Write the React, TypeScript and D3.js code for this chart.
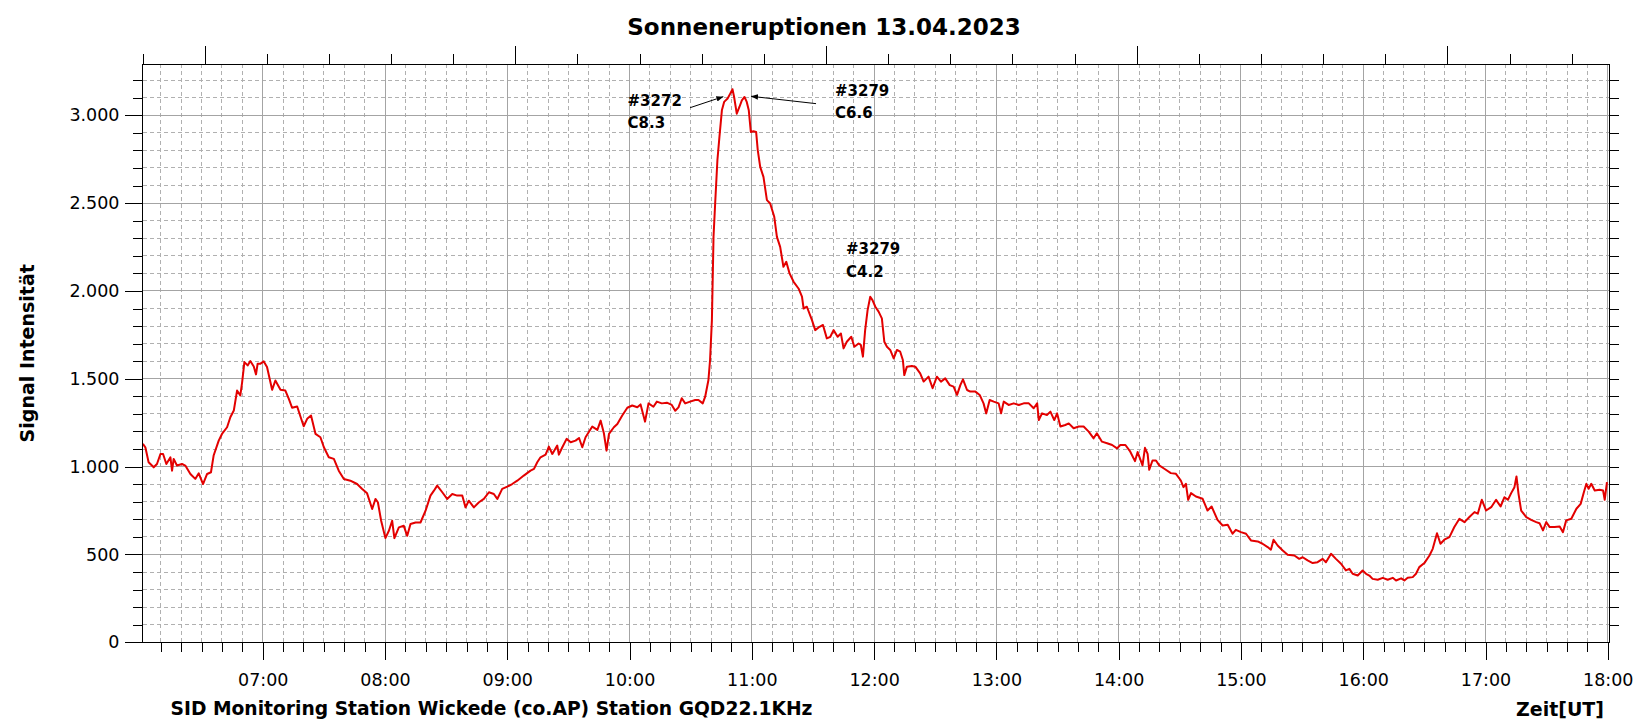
import React, { useEffect, useRef } from 'react';
import * as d3 from 'd3';

const chartTitle = 'Sonneneruptionen 13.04.2023';
const stationLabel = 'SID Monitoring Station Wickede (co.AP) Station GQD22.1KHz';
const timeLabel = 'Zeit[UT]';
const signalLabel = 'Signal Intensität';

const hourLabels = ['07:00', '08:00', '09:00', '10:00', '11:00', '12:00', '13:00', '14:00', '15:00', '16:00', '17:00', '18:00'];
const valueTicks = [0, 500, 1000, 1500, 2000, 2500, 3000];
const topMajorTicks = [0, 5, 10, 15, 20];

// [minutes after 06:00 UT, signal]
const morningSignal: [number, number][] = [
  [1.2, 1129], [2.4, 1110], [4.0, 1025], [6.5, 996], [8.1, 1015], [9.8, 1072], [11.1, 1072], [12.7, 1015],
  [14.7, 1053], [15.5, 977], [16.3, 1044], [17.9, 1006], [20.4, 1015], [22.0, 1006], [24.5, 958], [26.9, 930],
  [28.6, 962], [30.7, 901], [32.7, 958], [34.6, 968], [35.9, 1063], [38.4, 1148], [40.0, 1186], [42.5, 1224],
  [44.1, 1281], [45.8, 1319], [47.4, 1433], [49.0, 1405], [49.9, 1481], [51.0, 1595], [52.6, 1576], [53.9, 1601],
  [55.6, 1570], [56.7, 1525], [57.5, 1586], [58.9, 1586], [60.5, 1599], [62.1, 1567], [64.6, 1437], [66.2, 1490],
  [68.7, 1437], [71.1, 1433], [72.8, 1386], [74.4, 1335], [76.9, 1342], [78.5, 1285], [80.1, 1230], [81.8, 1272],
  [83.7, 1291], [85.9, 1186], [88.3, 1167], [90.0, 1110], [92.4, 1053], [94.9, 1044], [97.3, 977], [99.8, 930],
  [103.0, 920], [106.3, 901], [108.8, 873], [111.2, 848], [113.7, 759], [115.3, 816], [116.5, 797], [118.1, 692],
  [120.2, 593], [121.9, 635], [123.5, 692], [124.6, 593], [126.8, 654], [129.2, 663], [130.9, 606], [132.5, 673],
  [135.0, 682], [137.4, 682], [139.9, 749], [142.3, 835], [144.0, 863], [145.6, 892], [148.1, 854], [150.5, 816],
  [153.0, 844], [155.4, 835], [157.9, 835], [159.5, 768], [161.1, 806], [163.6, 768], [166.1, 797], [168.5, 816],
  [171.0, 854], [173.4, 844], [175.1, 816], [177.5, 873], [180.0, 886], [182.4, 901], [184.9, 920], [188.1, 949],
  [191.4, 977], [193.1, 987], [194.7, 1025], [196.3, 1053], [198.8, 1068], [200.4, 1114], [202.1, 1072], [204.5, 1120],
  [205.3, 1068], [207.0, 1110], [209.1, 1158], [211.1, 1139], [213.5, 1148], [215.2, 1163], [216.8, 1110], [218.4, 1167],
  [221.7, 1228], [224.2, 1209], [225.8, 1262], [227.4, 1190], [228.7, 1091], [229.9, 1186], [232.3, 1224], [234.0, 1243],
  [236.4, 1291], [238.9, 1335], [241.3, 1348], [243.8, 1338], [245.4, 1354],
];

const flareSignal: [number, number][] = [
  [247.6, 1256], [249.3, 1360], [251.7, 1341], [253.4, 1370], [255.8, 1360], [258.3, 1364], [260.7, 1351], [262.4, 1318],
  [264.0, 1337], [265.6, 1389], [267.3, 1360], [269.7, 1370], [272.2, 1379], [273.8, 1379], [275.9, 1360], [277.1, 1398],
  [278.7, 1493], [279.5, 1607], [280.4, 1834], [281.2, 2308], [282.0, 2498], [283.1, 2744], [284.1, 2877], [285.3, 3028],
  [286.4, 3076], [288.1, 3095], [289.4, 3123], [290.5, 3148], [291.3, 3104], [292.6, 3009], [293.9, 3047], [295.1, 3085],
  [296.4, 3104], [297.5, 3076], [298.5, 3028], [299.5, 2905], [300.8, 2909], [302.1, 2905], [302.9, 2801], [304.1, 2706],
  [305.7, 2649], [307.4, 2517], [309.0, 2498], [311.0, 2422], [312.3, 2308], [313.9, 2251], [315.5, 2137], [316.9, 2166],
  [318.5, 2100], [320.5, 2052], [322.9, 2014], [324.6, 1967], [325.4, 1900], [327.0, 1910], [329.5, 1834], [331.1, 1777],
  [333.2, 1796], [334.9, 1806], [336.8, 1730], [338.5, 1739], [340.1, 1777], [342.1, 1739], [343.7, 1758], [345.0, 1673],
  [346.6, 1711], [348.8, 1739], [350.3, 1682], [352.4, 1701], [353.5, 1692], [354.5, 1626], [355.6, 1777], [356.8, 1891],
  [358.1, 1967], [359.2, 1948], [360.6, 1910], [362.2, 1882], [363.8, 1844], [365.0, 1711], [366.3, 1682], [367.9, 1664],
  [369.6, 1616], [371.2, 1664], [372.8, 1654], [374.1, 1607], [374.8, 1521], [376.1, 1569], [378.5, 1573], [380.2, 1569],
  [382.6, 1531], [384.3, 1484], [386.7, 1512], [388.7, 1446], [390.8, 1512], [392.8, 1484], [394.9, 1502], [397.1, 1464],
  [399.0, 1455], [400.7, 1408], [402.3, 1464], [403.6, 1497], [405.6, 1436], [407.2, 1427], [409.7, 1427], [411.8, 1408],
  [413.7, 1360], [415.0, 1303], [416.7, 1379], [418.7, 1370], [421.1, 1360], [422.3, 1303], [423.6, 1370], [426.0, 1351],
  [428.5, 1360], [431.0, 1351], [433.4, 1360], [435.9, 1360], [438.3, 1332], [440.0, 1360], [440.8, 1265], [442.4, 1303],
  [444.8, 1294], [446.5, 1313], [448.4, 1265], [449.8, 1303], [451.4, 1228], [453.8, 1237], [455.5, 1246], [457.9, 1218],
  [460.4, 1228], [462.8, 1228], [465.3, 1199], [467.7, 1161], [469.3, 1190], [471.8, 1142], [474.3, 1133], [476.8, 1123],
  [479.2, 1104], [480.8, 1123], [483.3, 1123], [485.7, 1085],
];

const afternoonSignal: [number, number][] = [
  [488.0, 1031], [489.3, 1083], [491.7, 1007], [492.9, 1107], [494.2, 1073], [495.0, 982], [496.6, 1035], [498.3, 1035],
  [499.9, 1007], [502.4, 988], [505.6, 963], [508.1, 959], [510.5, 921], [511.8, 883], [513.0, 902], [514.1, 811],
  [515.5, 849], [517.9, 830], [521.2, 817], [523.6, 750], [525.6, 773], [528.5, 697], [531.0, 665], [533.5, 669],
  [535.9, 618], [537.5, 640], [540.0, 627], [542.5, 618], [544.9, 580], [548.2, 574], [550.6, 561], [553.1, 542],
  [554.7, 527], [556.0, 584], [558.0, 551], [560.5, 523], [562.9, 498], [566.2, 494], [568.6, 475], [570.3, 484],
  [572.7, 466], [575.2, 451], [577.6, 456], [580.1, 475], [581.7, 456], [584.2, 504], [586.6, 475], [589.1, 447],
  [591.5, 409], [593.2, 418], [594.8, 390], [597.3, 380], [599.7, 409], [601.4, 390], [603.0, 380], [604.6, 361],
  [607.1, 356], [609.6, 367], [612.0, 356], [614.5, 367], [616.1, 352], [618.6, 364], [620.2, 352], [621.8, 367],
  [624.3, 371], [625.9, 390], [627.5, 428], [630.0, 451], [632.5, 494], [634.1, 532], [636.2, 621], [637.9, 561],
  [639.8, 584], [642.3, 599], [644.7, 656], [647.2, 703], [649.7, 684], [652.1, 713], [654.6, 741], [656.2, 732],
  [658.2, 811], [660.3, 750], [662.8, 769], [665.2, 811], [667.4, 773], [669.3, 826], [671.0, 811], [672.6, 849],
  [674.2, 883], [675.2, 944], [676.2, 845], [677.5, 750], [680.0, 713], [682.4, 697], [684.9, 684], [686.5, 678],
  [688.2, 637], [689.8, 684], [691.5, 656], [693.9, 656], [696.4, 659], [698.0, 627], [699.6, 694], [702.1, 703],
  [704.6, 760], [706.7, 788], [708.3, 855], [709.5, 902], [710.6, 874], [711.9, 902], [713.6, 864], [716.0, 868],
  [717.7, 864], [718.5, 811], [719.6, 912],
];

const annotations = [
  { lines: ['#3272', 'C8.3'], at: [239.0, 3054], arrowFrom: [269.7, 3043], arrowTo: [286.0, 3106] },
  { lines: ['#3279', 'C6.6'], at: [340.8, 3110], arrowFrom: [331.5, 3066], arrowTo: [299.6, 3108] },
  { lines: ['#3279', 'C4.2'], at: [346.2, 2210] },
];

const W = 1652;
const H = 728;
const plot = { left: 142.5, right: 1609, top: 64.3, bottom: 642.3 };
const FONT = '"DejaVu Sans", Verdana, sans-serif';

export default function App() {
  const svgRef = useRef<SVGSVGElement>(null);

  useEffect(() => {
    if (!svgRef.current) return;
    const svg = d3.select(svgRef.current);
    svg.selectAll('*').remove();

    const base = new Date(2023, 3, 13, 6, 0, 0).getTime();
    const toDate = (m: number) => new Date(base + m * 60000);
    const parseHour = (s: string) => {
      const [h, m] = s.split(':').map(Number);
      return toDate((h - 6) * 60 + m);
    };

    const x = d3.scaleTime()
      .domain([toDate(1), toDate(720.6)])
      .range([plot.left, plot.right]);
    const y = d3.scaleLinear()
      .domain([0, 3290])
      .range([plot.bottom, plot.top]);
    const xTop = d3.scaleLinear()
      .domain([-1, 22.6])
      .range([plot.left, plot.right]);

    const fmt = d3.formatLocale({ decimal: ',', thousands: '.', grouping: [3], currency: ['', ' €'] }).format(',d');

    svg.append('rect').attr('width', W).attr('height', H).attr('fill', '#fff');

    const defs = svg.append('defs');
    defs.append('marker')
      .attr('id', 'arrow')
      .attr('viewBox', '0 0 10 10')
      .attr('refX', 10)
      .attr('refY', 5)
      .attr('markerWidth', 7)
      .attr('markerHeight', 7)
      .attr('orient', 'auto')
      .append('path')
      .attr('d', 'M0,1 L10,5 L0,9 z')
      .attr('fill', '#000');

    // Grid
    const grid = svg.append('g').attr('shape-rendering', 'crispEdges');
    const hourDates = hourLabels.map(parseHour);
    const minorTimes = d3.timeMinute.every(10)!.range(toDate(1), toDate(720.6))
      .filter(d => d.getMinutes() !== 0);
    grid.selectAll('.vminor')
      .data(minorTimes)
      .enter().append('line')
      .attr('x1', d => x(d)).attr('x2', d => x(d))
      .attr('y1', plot.top).attr('y2', plot.bottom)
      .attr('stroke', '#b0b0b0')
      .attr('stroke-dasharray', '4,3');
    const minorValues = d3.range(100, 3290, 100).filter(v => v % 500 !== 0);
    grid.selectAll('.hminor')
      .data(minorValues)
      .enter().append('line')
      .attr('x1', plot.left).attr('x2', plot.right)
      .attr('y1', d => y(d)).attr('y2', d => y(d))
      .attr('stroke', '#b0b0b0')
      .attr('stroke-dasharray', '4,3');
    grid.selectAll('.vmajor')
      .data(hourDates.filter(d => x(d) < plot.right - 1))
      .enter().append('line')
      .attr('x1', d => x(d)).attr('x2', d => x(d))
      .attr('y1', plot.top).attr('y2', plot.bottom)
      .attr('stroke', '#a4a4a4');
    grid.selectAll('.hmajor')
      .data(valueTicks.filter(v => v > 0))
      .enter().append('line')
      .attr('x1', plot.left).attr('x2', plot.right)
      .attr('y1', d => y(d)).attr('y2', d => y(d))
      .attr('stroke', '#a4a4a4');

    // Data line
    const series = [...morningSignal, ...flareSignal, ...afternoonSignal];
    const line = d3.line<[number, number]>()
      .x(d => x(toDate(d[0])))
      .y(d => y(d[1]));
    svg.append('path')
      .datum(series)
      .attr('d', line)
      .attr('fill', 'none')
      .attr('stroke', '#e30000')
      .attr('stroke-width', 2)
      .attr('stroke-linejoin', 'round');

    // Axes
    const styleAxis = (g: d3.Selection<SVGGElement, unknown, null, undefined>) => {
      g.select('.domain').remove();
      g.selectAll('.tick line').attr('stroke', '#000');
      g.selectAll('text')
        .attr('fill', '#000')
        .style('font-family', FONT)
        .style('font-size', '17.5px');
    };

    const axes = svg.append('g').attr('shape-rendering', 'crispEdges');

    axes.append('g')
      .attr('transform', `translate(${plot.left},0)`)
      .call(d3.axisLeft(y).tickValues(minorValues).tickSize(10).tickFormat(() => ''))
      .call(styleAxis);
    axes.append('g')
      .attr('transform', `translate(${plot.left},0)`)
      .call(d3.axisLeft(y).tickValues(valueTicks).tickSize(18).tickPadding(5).tickFormat(d => fmt(d as number)))
      .call(styleAxis);

    axes.append('g')
      .attr('transform', `translate(${plot.right},0)`)
      .call(d3.axisRight(y).tickValues(d3.range(100, 3290, 100)).tickSize(10).tickFormat(() => ''))
      .call(styleAxis);

    axes.append('g')
      .attr('transform', `translate(0,${plot.bottom})`)
      .call(d3.axisBottom(x).tickValues(minorTimes).tickSize(10).tickFormat(() => ''))
      .call(styleAxis);
    axes.append('g')
      .attr('transform', `translate(0,${plot.bottom})`)
      .call(d3.axisBottom(x).tickValues(hourDates).tickSize(18).tickPadding(13.5).tickFormat(d3.timeFormat('%H:%M') as any))
      .call(styleAxis);

    axes.append('g')
      .attr('transform', `translate(0,${plot.top})`)
      .call(d3.axisTop(xTop).tickValues(d3.range(-1, 23)).tickSize(10).tickFormat(() => ''))
      .call(styleAxis);
    axes.append('g')
      .attr('transform', `translate(0,${plot.top})`)
      .call(d3.axisTop(xTop).tickValues(topMajorTicks).tickSize(18).tickFormat(() => ''))
      .call(styleAxis);

    axes.append('rect')
      .attr('x', plot.left)
      .attr('y', plot.top)
      .attr('width', plot.right - plot.left)
      .attr('height', plot.bottom - plot.top)
      .attr('fill', 'none')
      .attr('stroke', '#000');

    // Annotations
    const ann = svg.append('g')
      .style('font-family', FONT)
      .style('font-size', '15px')
      .style('font-weight', 'bold');
    annotations.forEach(a => {
      const ax = x(toDate(a.at[0]));
      const ay = y(a.at[1]);
      a.lines.forEach((t, i) => {
        ann.append('text')
          .attr('x', ax)
          .attr('y', ay + i * 22.5)
          .attr('fill', '#000')
          .text(t);
      });
      if (a.arrowFrom && a.arrowTo) {
        ann.append('line')
          .attr('x1', x(toDate(a.arrowFrom[0])))
          .attr('y1', y(a.arrowFrom[1]))
          .attr('x2', x(toDate(a.arrowTo[0])))
          .attr('y2', y(a.arrowTo[1]))
          .attr('stroke', '#000')
          .attr('stroke-width', 1)
          .attr('marker-end', 'url(#arrow)');
      }
    });

    // Titles
    const labels = svg.append('g')
      .style('font-family', FONT)
      .style('font-weight', 'bold')
      .attr('fill', '#000');
    labels.append('text')
      .attr('x', 824)
      .attr('y', 34.5)
      .attr('text-anchor', 'middle')
      .style('font-size', '23px')
      .text(chartTitle);
    labels.append('text')
      .attr('x', 170.5)
      .attr('y', 715)
      .style('font-size', '18.7px')
      .text(stationLabel);
    labels.append('text')
      .attr('x', 1604)
      .attr('y', 716)
      .attr('text-anchor', 'end')
      .style('font-size', '19px')
      .text(timeLabel);
    labels.append('text')
      .attr('transform', `translate(34,${(plot.top + plot.bottom) / 2}) rotate(-90)`)
      .attr('text-anchor', 'middle')
      .style('font-size', '19px')
      .text(signalLabel);
  }, []);

  return (
    <svg
      ref={svgRef}
      width={W}
      height={H}
      viewBox={`0 0 ${W} ${H}`}
      style={{ position: 'absolute', left: 0, top: 0, display: 'block' }}
    />
  );
}
